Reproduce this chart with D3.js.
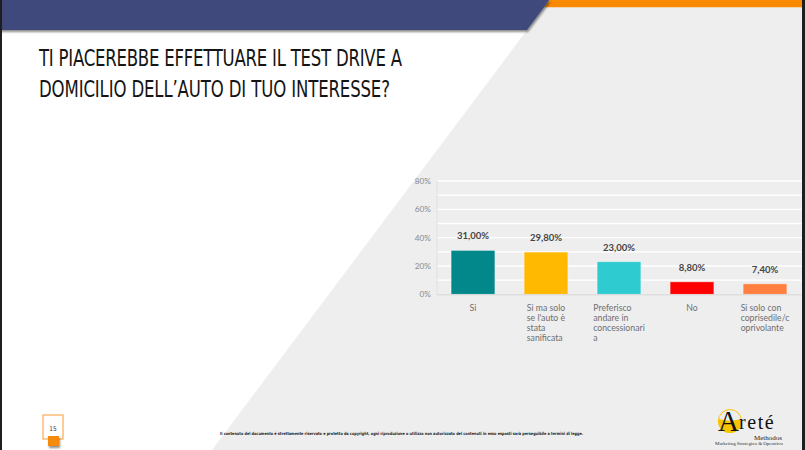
<!DOCTYPE html>
<html>
<head>
<meta charset="utf-8">
<script src="https://cdn.jsdelivr.net/npm/d3@7"></script>
<style>
html,body{margin:0;padding:0;background:#fff;overflow:hidden;}
svg{display:block;}
</style>
</head>
<body>
<script>
// ---- data ----
const categories = ["Si", "Si ma solo se l'auto è stata sanificata", "Preferisco andare in concessionaria", "No", "Si solo con coprisedile/coprivolante"];
const categoryLines = [
  ["Si"],
  ["Si ma solo", "se l'auto è", "stata", "sanificata"],
  ["Preferisco", "andare in", "concessionari", "a"],
  ["No"],
  ["Si solo con", "coprisedile/c", "oprivolante"]
];
const values = [0.31, 0.298, 0.23, 0.088, 0.074];
const valueLabels = ["31,00%", "29,80%", "23,00%", "8,80%", "7,40%"];
const barColors = ["#02878a", "#ffb900", "#2ecbd0", "#ff0000", "#ff7f40"];
const yTicks = [0, 0.2, 0.4, 0.6, 0.8];
const yTickLabels = ["0%", "20%", "40%", "60%", "80%"];
const gridValues = [0.1, 0.2, 0.3, 0.4, 0.5, 0.6, 0.7, 0.8];
const titleLines = ["TI PIACEREBBE EFFETTUARE IL TEST DRIVE A", "DOMICILIO DELL\u2019AUTO DI TUO INTERESSE?"];
const pageNumber = "15";
const footerText = "Il contenuto del documento è strettamente riservato e protetto da copyright, ogni riproduzione o utilizzo non autorizzato del contenuti in esso esposti sarà perseguibile a termini di legge.";

const W = 805, H = 450;
const svg = d3.select("body").append("svg").attr("width", W).attr("height", H);

const defs = svg.append("defs");
defs.append("filter").attr("id", "shadow").attr("x", "-20%").attr("y", "-20%").attr("width", "140%").attr("height", "160%")
  .append("feDropShadow").attr("dx", 1).attr("dy", 2).attr("stdDeviation", 1.2).attr("flood-color", "#000").attr("flood-opacity", 0.45);

// ---- background ----
svg.append("rect").attr("width", W).attr("height", H).attr("fill", "#ffffff");
const diag = y => 549.5 - 0.75 * y;
svg.append("path").attr("d", `M${diag(0)},0 L${W},0 L${W},${H} L${diag(H)},${H} Z`).attr("fill", "#eeeeee");
svg.append("path").attr("d", `M${diag(0)},0 L${W},0 L${W},7.3 L${diag(7.3)},7.3 Z`).attr("fill", "#f98900");
svg.append("path").attr("d", `M0,0 L${diag(0)},0 L${diag(30)},30 L0,30 Z`).attr("fill", "#414a7c").attr("filter", "url(#shadow)");
svg.append("rect").attr("x", 0).attr("y", 0).attr("width", 2).attr("height", H).attr("fill", "#1e1e1e");
svg.append("rect").attr("x", 802).attr("y", 0).attr("width", 3).attr("height", H).attr("fill", "#1e1e1e");

// ---- title ----
const titleScale = 0.8;
const titleG = svg.append("g");
titleLines.forEach((t, i) => {
  titleG.append("text")
    .attr("transform", `translate(39,${65.5 + i * 31}) scale(${titleScale},1)`)
    .attr("x", 0).attr("y", 0)
    .attr("font-family", "'Liberation Sans Narrow', 'DejaVu Sans Condensed', sans-serif")
    .attr("font-size", 23)
    .attr("fill", "#151515")
    .attr("textLength", (i === 0 ? 363 : 351) / titleScale)
    .attr("lengthAdjust", "spacing")
    .text(t);
});

// ---- chart ----
const x = d3.scaleBand().domain(categories).range([436.5, 801.5]).paddingInner(0.4).paddingOuter(0.2);
const y = d3.scaleLinear().domain([0, 0.8]).range([294.3, 181]);

const grid = svg.append("g");
grid.selectAll("line").data(gridValues).join("line")
  .attr("x1", 437).attr("x2", 801.5)
  .attr("y1", d => y(d)).attr("y2", d => y(d))
  .attr("stroke", "#ffffff").attr("stroke-width", 1.3);
svg.append("line").attr("x1", 437).attr("x2", 437).attr("y1", y(0.8)).attr("y2", y(0))
  .attr("stroke", "#e0e0e0").attr("stroke-width", 1);

const yAxis = d3.axisLeft(y).tickValues(yTicks).tickSize(0).tickPadding(6)
  .tickFormat((d, i) => yTickLabels[i]);
const yg = svg.append("g").attr("transform", "translate(437,0)").call(yAxis);
yg.select(".domain").remove();
yg.selectAll("text").attr("font-family", "Lato, 'Open Sans', sans-serif").attr("font-size", 8.3).attr("fill", "#8a8a8a");

svg.selectAll(".bar").data(values).join("rect")
  .attr("class", "bar")
  .attr("x", (d, i) => x(categories[i]))
  .attr("width", x.bandwidth())
  .attr("y", d => y(d))
  .attr("height", d => y(0) - y(d))
  .attr("fill", (d, i) => barColors[i])
  .attr("stroke", "#ffffff").attr("stroke-opacity", 0.5).attr("stroke-width", 0.8);

const xAxis = d3.axisBottom(x).tickSize(0).tickFormat("");
const xg = svg.append("g").attr("transform", `translate(0,${y(0)})`).call(xAxis);
xg.select(".domain").attr("stroke", "#d6d6d6").attr("d", `M437,0.5H801.5`);

svg.selectAll(".vlab").data(values).join("text")
  .attr("class", "vlab")
  .attr("x", (d, i) => x(categories[i]) + x.bandwidth() / 2)
  .attr("y", d => y(d) - 11)
  .attr("text-anchor", "middle")
  .attr("font-family", "Lato, 'Open Sans', sans-serif")
  .attr("font-weight", 700)
  .attr("font-size", 9.5)
  .attr("fill", "#444")
  .text((d, i) => valueLabels[i]);

categories.forEach((c, i) => {
  const g = svg.append("g");
  const cx = x(c) + x.bandwidth() / 2;
  const texts = categoryLines[i].map((line, j) => g.append("text")
    .attr("y", 311 + j * 10)
    .attr("font-family", "Lato, 'Open Sans', sans-serif")
    .attr("font-size", 8.7)
    .attr("fill", "#6f6f6f")
    .text(line));
  const maxW = d3.max(texts, t => t.node().getComputedTextLength());
  texts.forEach(t => t.attr("x", cx - maxW / 2));
});

// ---- footer ----
svg.append("text").attr("x", 220).attr("y", 435)
  .attr("font-family", "'Liberation Sans Narrow', 'DejaVu Sans Condensed', sans-serif")
  .attr("font-weight", 700).attr("font-size", 4.2).attr("fill", "#222")
  .attr("textLength", 363).attr("lengthAdjust", "spacingAndGlyphs")
  .text(footerText);

svg.append("rect").attr("x", 43).attr("y", 415).attr("width", 20).attr("height", 24)
  .attr("fill", "#fff").attr("stroke", "#f9ab55").attr("stroke-width", 1.2);
svg.append("text").attr("x", 53).attr("y", 431).attr("text-anchor", "middle")
  .attr("font-family", "'DejaVu Sans Condensed', sans-serif").attr("font-size", 6.5).attr("fill", "#333")
  .text(pageNumber);
svg.append("rect").attr("x", 48).attr("y", 436).attr("width", 11).attr("height", 10)
  .attr("fill", "#f58a07").attr("filter", "url(#shadow)");

// ---- logo ----
const logo = svg.append("g");
const arc = d3.arc();
logo.append("path").attr("transform", "translate(730,421)")
  .attr("d", arc({innerRadius: 0, outerRadius: 12, startAngle: Math.PI * 0.45, endAngle: Math.PI * 1.55}))
  .attr("fill", "#f7c400");
logo.append("circle").attr("cx", 730).attr("cy", 421).attr("r", 11.5)
  .attr("fill", "none").attr("stroke", "#f7c400").attr("stroke-width", 1);
const brand = logo.append("text").attr("x", 718).attr("y", 430)
  .attr("font-family", "'Liberation Serif', serif").attr("fill", "#111");
brand.append("tspan").attr("font-size", 29).attr("dy", 1).text("A");
brand.append("tspan").attr("font-size", 20).attr("dy", -2).attr("letter-spacing", 1.6).text("reté");
logo.append("text").attr("x", 754).attr("y", 439.5)
  .attr("font-family", "'Liberation Serif', serif").attr("font-size", 6).attr("fill", "#222")
  .attr("textLength", 28).attr("lengthAdjust", "spacingAndGlyphs")
  .text("Methodos");
logo.append("text").attr("x", 715).attr("y", 444.8)
  .attr("font-family", "'Liberation Serif', serif").attr("font-size", 4.2).attr("fill", "#333")
  .attr("textLength", 68).attr("lengthAdjust", "spacingAndGlyphs")
  .text("Marketing Strategico & Operativo");
</script>
</body>
</html>
